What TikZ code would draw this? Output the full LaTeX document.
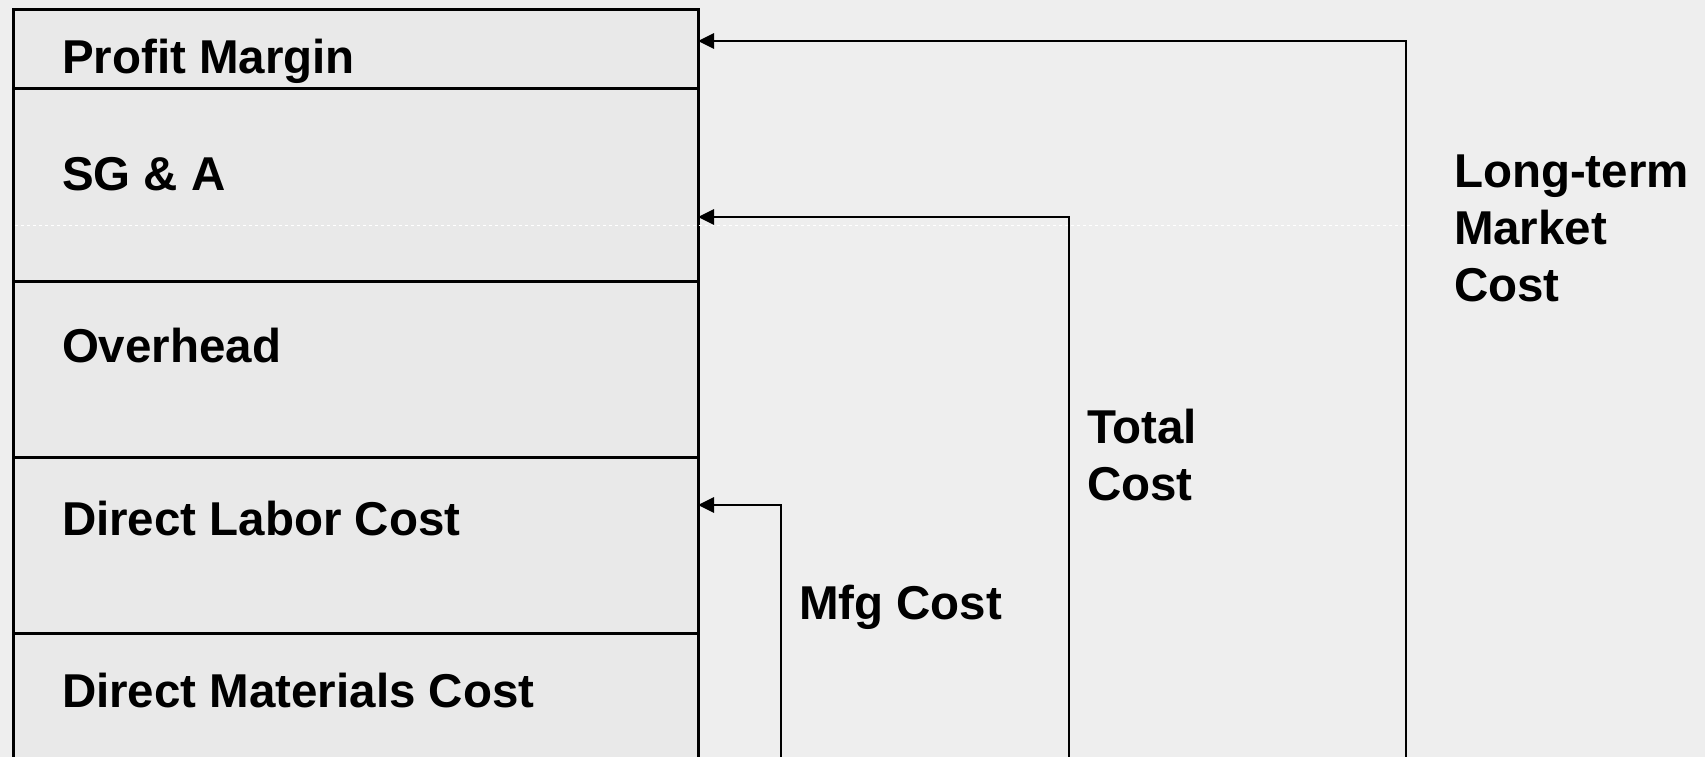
\documentclass[tikz,border=0pt]{standalone}
\usepackage{fontspec}
\setmainfont{Liberation Sans}
\usetikzlibrary{arrows.meta}
\definecolor{bgcol}{HTML}{EEEEEE}
\definecolor{cellcol}{HTML}{E9E9E9}
\begin{document}
\begin{tikzpicture}[x=1pt,y=-1pt,
  cell/.style={draw=black, line width=3pt, fill=cellcol, minimum width=685pt, inner sep=0pt, outer sep=0pt},
  lbl/.style={font=\fontsize{47.5}{57}\selectfont\bfseries, inner sep=0pt, outer sep=0pt, anchor=base west},
  mlbl/.style={lbl, align=left},
  arr/.style={draw=black, line width=2.8pt, -{Triangle[length=16pt,width=15pt]}}
]
\useasboundingbox (0,0) rectangle (1705,757);
\fill[bgcol] (0,0) rectangle (1705,757);
% cells
\node[cell, minimum height=79pt, anchor=north west] (pm) at (13,10) {};
\node[cell, minimum height=192pt, anchor=north west] (sga) at (13,89) {};
\node[cell, minimum height=176pt, anchor=north west] (oh) at (13,281) {};
\node[cell, minimum height=176pt, anchor=north west] (dl) at (13,457) {};
\node[cell, minimum height=140pt, anchor=north west] (dm) at (13,633) {};
% faint white artefact line
\draw[white, line width=1pt, dashed] (15,225) -- (1410,225);
% labels
\node[lbl] (tpm) at (62,74) {Profit Margin};
\node[lbl] (tsga) at (62,190) {SG \& A};
\node[lbl] (toh) at (62,362) {Overhead};
\node[lbl] (tdl) at (62,535) {Direct Labor Cost};
\node[lbl] (tdm) at (62,707) {Direct Materials Cost};
\node[lbl] (tmfg) at (799,619) {Mfg Cost};
\node[mlbl] (ttot) at (1087,500) {Total\\Cost};
\node[mlbl] (tlt) at (1454,301) {Long-term\\Market\\Cost};
% connectors
\coordinate (mfgb) at (781,760);
\coordinate (mfgt) at (781,505);
\coordinate (totb) at (1069,760);
\coordinate (tott) at (1069,217);
\coordinate (ltb) at (1406,760);
\coordinate (ltt) at (1406,41);
\draw[arr] (mfgb) -- (mfgt) -- (pm.east |- mfgt);
\draw[arr] (totb) -- (tott) -- (pm.east |- tott);
\draw[arr] (ltb) -- (ltt) -- (pm.east |- ltt);
\end{tikzpicture}
\end{document}
